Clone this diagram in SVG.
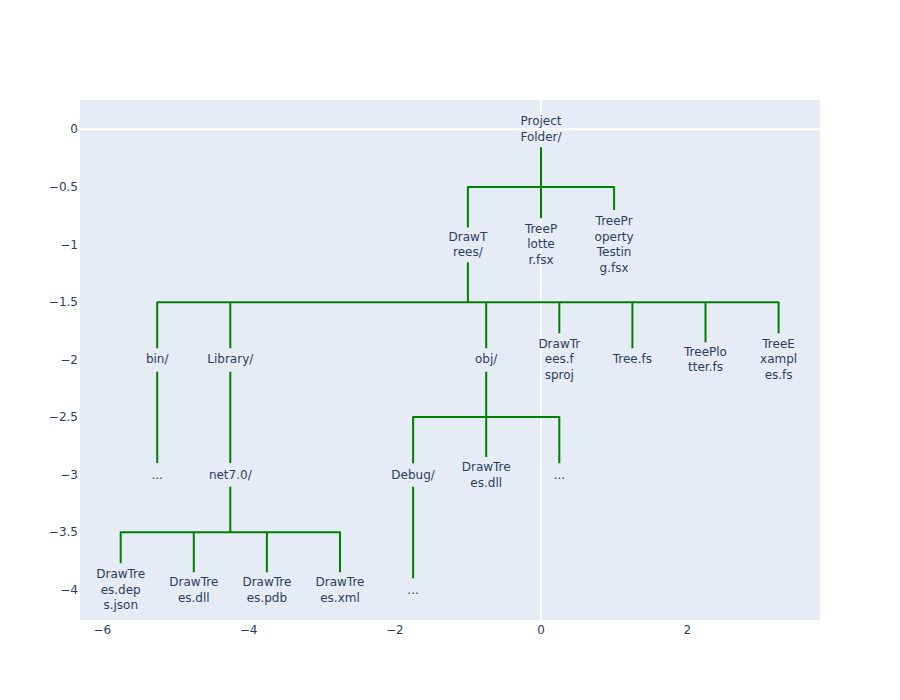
<svg xmlns="http://www.w3.org/2000/svg" width="900" height="700" viewBox="0 0 900 700">
<style>
.t{font-family:"DejaVu Sans",Verdana,"Open Sans",Arial,sans-serif;font-size:12px;fill:#2a3f5f;text-anchor:middle}
.yt{font-family:"DejaVu Sans",Verdana,"Open Sans",Arial,sans-serif;font-size:12px;fill:#2a3f5f;text-anchor:end}
.c{fill:none;stroke:#008000;stroke-width:2;stroke-linejoin:round}
.z{stroke:#ffffff;stroke-width:2}
</style>
<rect x="0" y="0" width="900" height="700" fill="#ffffff"/>
<rect x="80" y="100" width="740" height="520" fill="#E5ECF6"/>
<g id="zerolines">
<line class="z" x1="541" y1="100" x2="541" y2="620"/>
<line class="z" x1="80" y1="129.2" x2="820" y2="129.2"/>
</g>
<g id="xaxis">
<text class="t" x="102.4" y="633.5">−6</text>
<text class="t" x="248.6" y="633.5">−4</text>
<text class="t" x="394.8" y="633.5">−2</text>
<text class="t" x="541" y="633.5">0</text>
<text class="t" x="687.2" y="633.5">2</text>
</g>
<g id="yaxis">
<text class="yt" x="78" y="133.4">0</text>
<text class="yt" x="78" y="191">−0.5</text>
<text class="yt" x="78" y="248.5">−1</text>
<text class="yt" x="78" y="306">−1.5</text>
<text class="yt" x="78" y="363.6">−2</text>
<text class="yt" x="78" y="421.2">−2.5</text>
<text class="yt" x="78" y="478.7">−3</text>
<text class="yt" x="78" y="536.2">−3.5</text>
<text class="yt" x="78" y="593.8">−4</text>
</g>
<g id="connectors">
<path class="c" d="M541 147.3 V187"/>
<path class="c" d="M467.9 227.5 V187 H614.1 V210"/>
<path class="c" d="M541 187 V218.3"/>
<path class="c" d="M467.9 262.3 V302.3"/>
<path class="c" d="M157.2 348.3 V302.3 H778.6 V333.3"/>
<path class="c" d="M230.3 302.3 V348.3"/>
<path class="c" d="M486.2 302.3 V348.3"/>
<path class="c" d="M559.3 302.3 V333.3"/>
<path class="c" d="M632.4 302.3 V348.3"/>
<path class="c" d="M705.5 302.3 V342.3"/>
<path class="c" d="M157.2 371.7 V463"/>
<path class="c" d="M230.3 371.7 V463"/>
<path class="c" d="M486.2 371.7 V417"/>
<path class="c" d="M413.1 463.3 V417 H559.3 V463.3"/>
<path class="c" d="M486.2 417 V457"/>
<path class="c" d="M413.1 486.7 V578.3"/>
<path class="c" d="M230.3 486.7 V532.3"/>
<path class="c" d="M120.7 563.3 V532.3 H340 V572.3"/>
<path class="c" d="M193.8 532.3 V572.3"/>
<path class="c" d="M266.9 532.3 V572.3"/>
</g>
<g id="node-project-folder"><text class="t" x="541" y="125.4">Project</text><text class="t" x="541" y="141">Folder/</text></g>
<g id="node-drawtrees"><text class="t" x="467.9" y="240.5">DrawT</text><text class="t" x="467.9" y="256.1">rees/</text></g>
<g id="node-treeplotter-fsx"><text class="t" x="541" y="232.7">TreeP</text><text class="t" x="541" y="248.3">lotte</text><text class="t" x="541" y="263.9">r.fsx</text></g>
<g id="node-treepropertytesting"><text class="t" x="614.1" y="224.9">TreePr</text><text class="t" x="614.1" y="240.5">operty</text><text class="t" x="614.1" y="256.1">Testin</text><text class="t" x="614.1" y="271.7">g.fsx</text></g>
<g id="node-bin"><text class="t" x="157.2" y="363.4">bin/</text></g>
<g id="node-library"><text class="t" x="230.3" y="363.4">Library/</text></g>
<g id="node-obj"><text class="t" x="486.2" y="363.4">obj/</text></g>
<g id="node-fsproj"><text class="t" x="559.3" y="347.8">DrawTr</text><text class="t" x="559.3" y="363.4">ees.f</text><text class="t" x="559.3" y="379">sproj</text></g>
<g id="node-tree-fs"><text class="t" x="632.4" y="363.4">Tree.fs</text></g>
<g id="node-treeplotter-fs"><text class="t" x="705.5" y="355.6">TreePlo</text><text class="t" x="705.5" y="371.2">tter.fs</text></g>
<g id="node-treeexamples-fs"><text class="t" x="778.6" y="347.8">TreeE</text><text class="t" x="778.6" y="363.4">xampl</text><text class="t" x="778.6" y="379">es.fs</text></g>
<g id="node-bin-more"><text class="t" x="157.2" y="478.7">...</text></g>
<g id="node-net70"><text class="t" x="230.3" y="478.7">net7.0/</text></g>
<g id="node-debug"><text class="t" x="413.1" y="478.7">Debug/</text></g>
<g id="node-obj-dll"><text class="t" x="486.2" y="470.9">DrawTre</text><text class="t" x="486.2" y="486.5">es.dll</text></g>
<g id="node-obj-more"><text class="t" x="559.3" y="478.7">...</text></g>
<g id="node-deps-json"><text class="t" x="120.7" y="578.2">DrawTre</text><text class="t" x="120.7" y="593.8">es.dep</text><text class="t" x="120.7" y="609.4">s.json</text></g>
<g id="node-net-dll"><text class="t" x="193.8" y="586">DrawTre</text><text class="t" x="193.8" y="601.6">es.dll</text></g>
<g id="node-pdb"><text class="t" x="266.9" y="586">DrawTre</text><text class="t" x="266.9" y="601.6">es.pdb</text></g>
<g id="node-xml"><text class="t" x="340" y="586">DrawTre</text><text class="t" x="340" y="601.6">es.xml</text></g>
<g id="node-debug-more"><text class="t" x="413.1" y="593.8">...</text></g>
</svg>
